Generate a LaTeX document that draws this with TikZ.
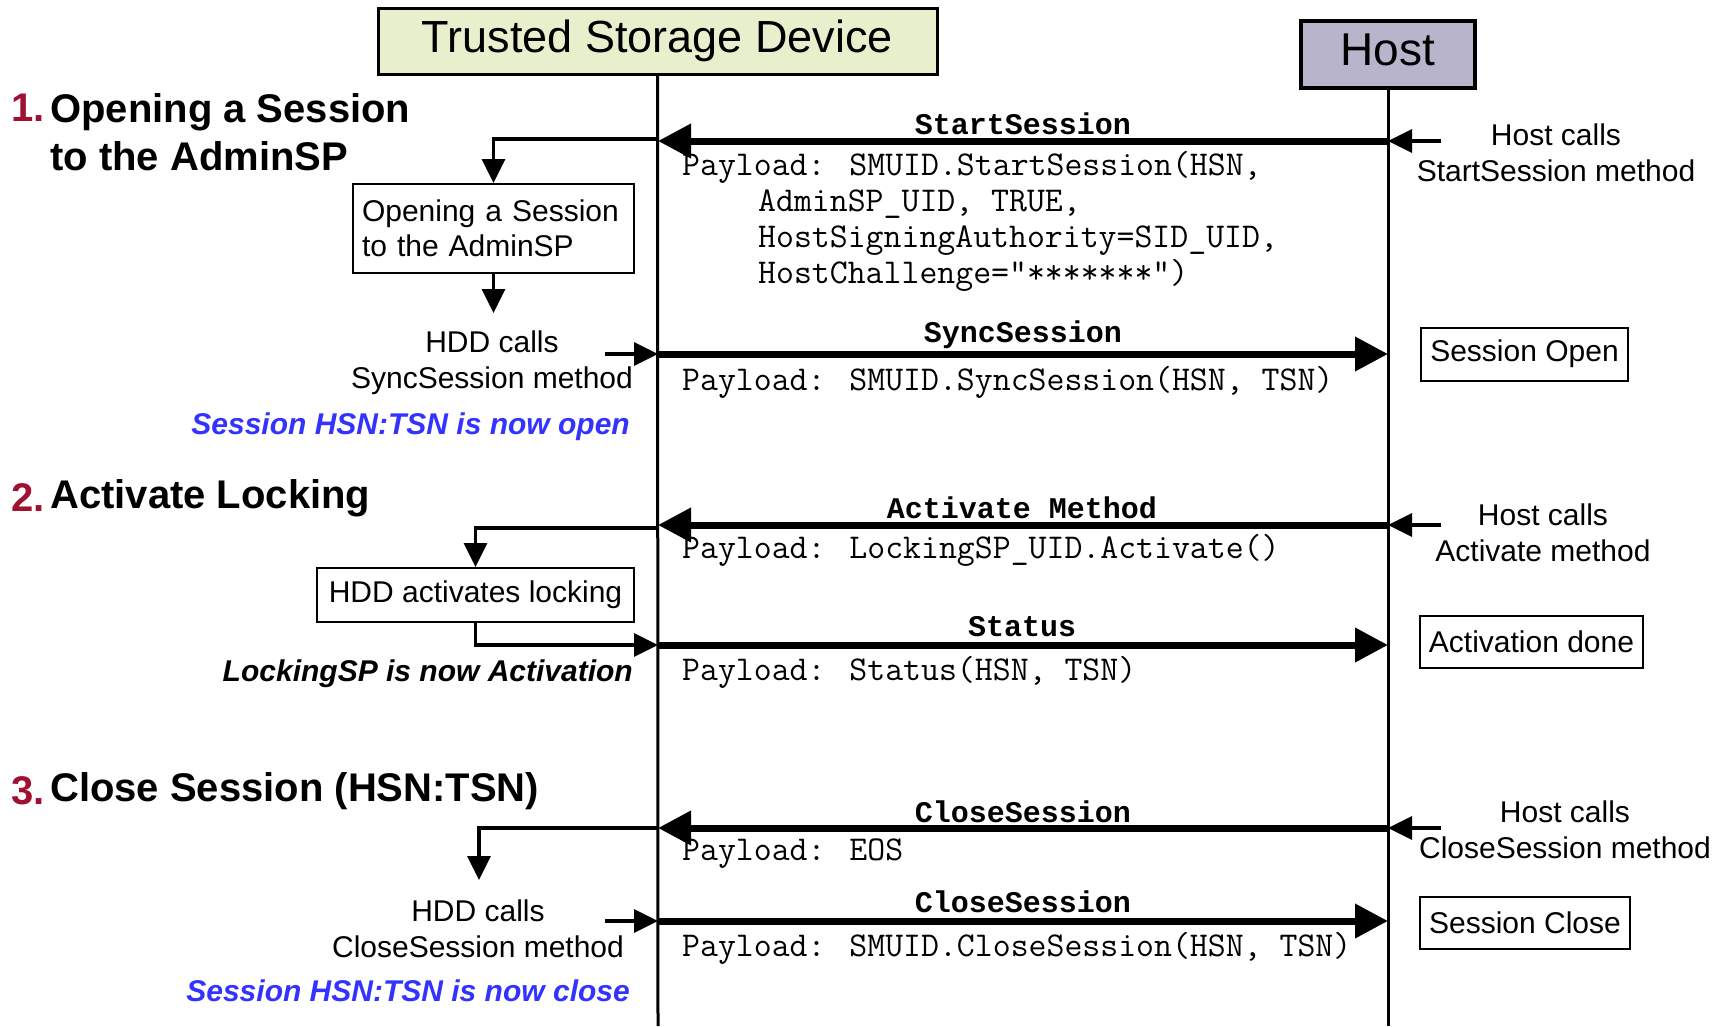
\documentclass[tikz,border=0pt]{standalone}
\usepackage{fontspec}
\setmainfont{Liberation Sans}
\newfontfamily\mnfont{Liberation Mono}
\usetikzlibrary{arrows.meta}
\definecolor{tsdfill}{RGB}{232,239,204}
\definecolor{hostfill}{RGB}{184,180,204}
\definecolor{numred}{RGB}{160,16,48}
\definecolor{noteblue}{RGB}{51,51,255}
\begin{document}
\begin{tikzpicture}[x=1pt,y=-1pt,
  every node/.style={inner sep=0pt},
  life/.style={line width=3pt},
  msgarrow/.style={line width=7pt,-{Triangle[length=33pt,width=33pt]}},
  sidearrow/.style={line width=3.5pt,-{Triangle[length=24pt,width=23pt]}},
  txt/.style={font=\fontsize{30}{36}\selectfont, align=center},
  titletxt/.style={font=\bfseries\fontsize{40}{48}\selectfont, anchor=west, align=left},
  num/.style={font=\bfseries\fontsize{40}{48}\selectfont, text=numred, anchor=west},
  mname/.style={font=\mnfont\bfseries\fontsize{30}{36}\selectfont},
  payload/.style={font=\ttfamily\fontsize{34.8}{36}\selectfont, anchor=west, align=left},
  note/.style={font=\bfseries\itshape\fontsize{30}{36}\selectfont, anchor=east},
  statebox/.style={draw, line width=2pt, font=\fontsize{30}{36}\selectfont}
]
\useasboundingbox (0,0) rectangle (1725,1026);

% participants
\node[draw, line width=3pt, fill=tsdfill, minimum width=559pt, minimum height=66pt,
      font=\fontsize{45}{54}\selectfont] (tsd) at (657.5,41) {Trusted Storage Device};
\node[draw, line width=3.5pt, fill=hostfill, minimum width=174pt, minimum height=67pt,
      text depth=9pt, font=\fontsize{46}{54}\selectfont] (host) at (1388,54.5) {Host};

\coordinate (tsdend) at (658,1026);
\coordinate (hostend) at (1388,1026);
\draw[life] (tsd.south) -- (tsdend);
\draw[life] (host.south) -- (hostend);

% lifeline points
\coordinate (t1) at (658,141);  \coordinate (h1) at (1388,141);
\coordinate (t2) at (658,354);  \coordinate (h2) at (1388,354);
\coordinate (t3) at (658,525);  \coordinate (h3) at (1388,525);
\coordinate (t4) at (658,645);  \coordinate (h4) at (1388,645);
\coordinate (t5) at (658,828);  \coordinate (h5) at (1388,828);
\coordinate (t6) at (658,921);  \coordinate (h6) at (1388,921);
\coordinate (hs1) at (1441,141);
\coordinate (hs3) at (1441,525);
\coordinate (hs5) at (1441,828);
\coordinate (ls2) at (605,354);
\coordinate (ls6) at (605,921);
\coordinate (b1) at (658,139);
\coordinate (b3) at (658,528);
\coordinate (b5) at (658,828);
\coordinate (e1) at (493.5,313);
\coordinate (e5) at (479,880);

% section titles
\node[num] (n1) at (11,108) {1.};
\node[titletxt] (s1) at (50,132) {Opening a Session\\to the AdminSP};
\node[num] (n2) at (11,498) {2.};
\node[titletxt] (s2) at (50,498) {Activate Locking};
\node[num] (n3) at (11,791) {3.};
\node[titletxt] (s3) at (50,791) {Close Session (HSN:TSN)};

% left side
\node[statebox, minimum width=281pt, minimum height=89pt, text width=263pt, inner xsep=9pt,
      align=left, font=\fontsize{30}{35}\selectfont] (box1) at (493.5,228.5)
      {Opening a Session\\to the AdminSP};
\node[txt] (hdd1) at (492,363) {HDD calls\\SyncSession method};
\node[note, text=noteblue] (open) at (630,427) {Session HSN:TSN is now open};
\node[statebox, minimum width=317pt, minimum height=54pt] (box2) at (475.5,595) {HDD activates locking};
\node[note] (act) at (633,674) {LockingSP is now Activation};
\node[txt] (hdd3) at (478,929) {HDD calls\\CloseSession method};
\node[note, text=noteblue] (close) at (630,991) {Session HSN:TSN is now close};

% right side
\node[txt] (hc1) at (1556,153) {Host calls\\StartSession method};
\node[statebox, minimum width=207pt, minimum height=53pt] (sopen) at (1524.5,354) {Session Open};
\node[txt] (hc3) at (1543,533) {Host calls\\Activate method};
\node[statebox, minimum width=223pt, minimum height=52pt] (adone) at (1531.5,642) {Activation done};
\node[txt] (hc5) at (1565,830) {Host calls\\CloseSession method};
\node[statebox, minimum width=210pt, minimum height=52pt] (sclose) at (1525,923) {Session Close};

% message names
\node[mname] (m1) at (1023,124) {StartSession};
\node[mname] (m2) at (1023,335) {SyncSession};
\node[mname] (m3) at (1022,508) {Activate Method};
\node[mname] (m4) at (1022,627) {Status};
\node[mname] (m5) at (1023,812) {CloseSession};
\node[mname] (m6) at (1023,902) {CloseSession};

% payloads
\node[payload] (p1) at (682,221) {Payload: SMUID.StartSession(HSN,\\
\hspace*{76pt}AdminSP\_UID, TRUE,\\
\hspace*{76pt}HostSigningAuthority=SID\_UID,\\
\hspace*{76pt}HostChallenge="*******")};
\node[payload] (p2) at (682,382) {Payload: SMUID.SyncSession(HSN, TSN)};
\node[payload] (p3) at (682,550) {Payload: LockingSP\_UID.Activate()};
\node[payload] (p4) at (682,672) {Payload: Status(HSN, TSN)};
\node[payload] (p5) at (682,854) {Payload: EOS};
\node[payload] (p6) at (682,948) {Payload: SMUID.CloseSession(HSN, TSN)};

% messages
\draw[msgarrow] (h1) -- (t1);
\draw[msgarrow] (t2) -- (h2);
\draw[msgarrow] (h3) -- (t3);
\draw[msgarrow] (t4) -- (h4);
\draw[msgarrow] (h5) -- (t5);
\draw[msgarrow] (t6) -- (h6);

% side arrows
\draw[sidearrow] (hs1) -- (h1);
\draw[sidearrow] (hs3) -- (h3);
\draw[sidearrow] (hs5) -- (h5);
\draw[sidearrow] (ls2) -- (t2);
\draw[sidearrow] (ls6) -- (t6);

% branches on the device side
\draw[sidearrow] (b1) -| (box1.north);
\draw[sidearrow] (box1.south) -- (e1);
\draw[sidearrow] (b3) -| (box2.north);
\draw[sidearrow] (box2.south) |- (t4);
\draw[sidearrow] (b5) -| (e5);
\end{tikzpicture}
\end{document}
